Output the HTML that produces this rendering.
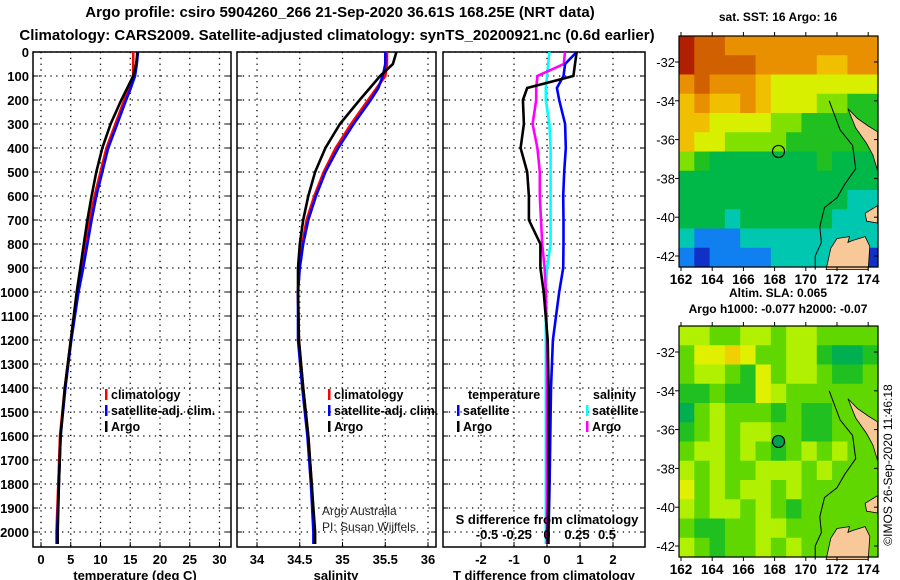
<!DOCTYPE html>
<html><head><meta charset="utf-8"><style>
body{margin:0;background:#fff;}
svg{display:block;font-family:"Liberation Sans",Arial,sans-serif;}
.b{font-weight:bold;}
</style></head><body>
<svg id="s" width="900" height="580" viewBox="0 0 900 580">
<text x="340" y="17" text-anchor="middle" class="b" font-size="15">Argo profile: csiro 5904260_266 21-Sep-2020 36.61S 168.25E (NRT data)</text>
<text x="337" y="40" text-anchor="middle" class="b" font-size="15">Climatology: CARS2009. Satellite-adjusted climatology: synTS_20200921.nc (0.6d earlier)</text>
<text x="778" y="21" text-anchor="middle" class="b" font-size="12">sat. SST: 16 Argo: 16</text>
<text x="778" y="297" text-anchor="middle" class="b" font-size="12">Altim. SLA: 0.065</text>
<text x="778" y="313" text-anchor="middle" class="b" font-size="12">Argo h1000: -0.077 h2000: -0.07</text>
<text transform="translate(892,465) rotate(-90)" text-anchor="middle" font-size="12">©IMOS 26-Sep-2020 11:46:18</text>
<text x="322" y="515" font-size="12" fill="#222">Argo Australia</text>
<text x="322" y="531" font-size="12" fill="#222">PI: Susan Wijffels</text>
<g id="g"></g>
</svg>
<script>
// ---- profile data ----
const depthTicks=[0,100,200,300,400,500,600,700,800,900,1000,1100,1200,1300,1400,1500,1600,1700,1800,1900,2000];
const tempTicks=[0,5,10,15,20,25,30];
const salTicks=[34,34.5,35,35.5,36];
const tdiffTicks=[-2,-1,0,1,2];
const sdiffTicks=[-0.5,-0.25,0,0.25,0.5];
const sdiffTickLabels=['-0.5','-0.25','0','0.25','0.5'];
const depths=[0,50,100,150,200,300,400,500,600,700,800,900,1000,1200,1400,1600,1800,2000,2050];
const tempArgo=[16.2,16.0,15.5,14.5,13.5,11.7,10.3,9.3,8.5,7.8,7.2,6.6,6.0,5.0,4.0,3.3,3.0,2.8,2.8];
const tempClim=[15.5,15.5,15.5,14.8,14.0,12.5,11.0,10.0,9.0,8.2,7.5,6.9,6.2,5.0,4.0,3.2,2.9,2.6,2.6];
const tempSat=[16.3,16.1,15.8,15.1,14.3,12.8,11.3,10.3,9.3,8.5,7.8,7.1,6.3,5.1,4.1,3.3,3.0,2.7,2.7];
const salArgo=[35.63,35.59,35.44,35.32,35.2,34.97,34.8,34.68,34.6,34.54,34.5,34.48,34.48,34.49,34.54,34.6,34.64,34.68,34.68];
const salClim=[35.52,35.52,35.5,35.4,35.3,35.1,34.92,34.78,34.67,34.58,34.53,34.49,34.48,34.49,34.54,34.6,34.64,34.67,34.67];
const salSat=[35.5,35.5,35.47,35.42,35.33,35.13,34.95,34.8,34.69,34.6,34.54,34.5,34.48,34.48,34.53,34.59,34.63,34.66,34.66];
const tdArgo=[0.9,0.85,0.8,-0.6,-0.73,-0.7,-0.8,-0.6,-0.55,-0.55,-0.2,-0.2,-0.1,0.02,0.05,0.05,0.05,0.02,0.02];
const tdSat=[0.9,0.55,0.5,0.3,0.37,0.55,0.57,0.52,0.49,0.5,0.5,0.49,0.37,0.18,0.12,0.1,0.08,0.05,0.05];
const sdArgo=[0.15,0.14,-0.08,-0.09,-0.09,-0.12,-0.08,-0.06,-0.06,-0.05,-0.04,-0.02,-0.01,0,0,0,0,0,0];
const sdSat=[0.02,0.01,0.0,-0.01,-0.01,0.02,0.03,0.03,0.03,0.03,0.03,0.0,-0.01,-0.01,-0.01,-0.01,-0.01,-0.01,-0.01];
// ---- map data ----
const mapLons=[162,164,166,168,170,172,174];
const mapLats=[-32,-34,-36,-38,-40,-42];
const sstPalette=['#1030c8','#1080f0','#00c8b0','#00b848','#20c020','#80e000','#d8f000','#f0c000','#e89000','#d06000','#b02000'];
const sstGrid=[
[10,9,9,8,8,8,8,8,8,8,8,8,8],
[10,9,9,9,9,8,8,8,8,7,7,8,8],
[8,9,8,8,8,7,6,6,6,6,6,6,6],
[7,8,7,7,8,7,6,6,6,5,5,4,4],
[7,7,6,6,6,6,5,5,4,4,4,4,4],
[7,6,6,5,5,5,5,4,4,4,4,4,4],
[5,4,3,3,3,3,3,3,3,4,3,3,3],
[3,3,3,3,3,3,3,3,3,3,3,3,3],
[3,3,3,3,3,3,3,3,3,3,3,2,2],
[3,3,3,2,3,3,3,3,3,3,2,2,2],
[2,1,1,1,2,2,2,2,2,2,2,2,2],
[1,0,1,1,1,1,2,2,2,2,2,2,0]];
const slaPalette=['#00b050','#20c020','#60d800','#b0f000','#e0f000','#f0d000'];
const slaGrid=[
[3,3,2,2,3,3,2,3,3,2,2,2,2],
[2,4,4,5,4,2,2,3,3,1,0,0,1],
[2,3,3,2,1,4,2,3,3,2,1,1,2],
[1,1,2,1,1,4,3,2,2,2,2,2,2],
[0,2,3,2,2,2,1,2,1,1,2,2,2],
[1,2,3,2,3,3,2,2,1,1,2,2,2],
[2,3,3,2,3,2,1,2,3,2,3,2,2],
[3,2,3,2,2,3,3,3,2,3,2,2,2],
[4,2,3,2,3,3,2,3,2,2,2,2,2],
[3,2,3,3,2,3,2,1,2,2,2,2,2],
[2,1,1,2,2,3,3,2,2,2,2,2,2],
[3,2,1,2,2,3,2,3,2,2,2,2,2]];
const landNorth=[[172.7,-34.4],[173.3,-34.9],[174.0,-35.3],[174.6,-35.6],[174.6,-37.6],[174.3,-36.8],[173.9,-36.2],[173.2,-35.4]];
const landMid=[[174.6,-39.4],[173.8,-39.8],[173.9,-40.2],[174.6,-40.3]];
const landSouth=[[171.3,-42.7],[171.6,-41.6],[172.0,-41.1],[172.8,-41.0],[172.7,-41.3],[173.0,-41.2],[173.8,-41.0],[174.1,-41.5],[174.0,-42.7]];
const shelfLine=[[171.5,-34.0],[172.2,-35.5],[173.0,-36.3],[173.2,-37.5],[172.5,-38.3],[172.0,-39.0],[171.2,-39.5],[170.9,-40.5],[171.0,-41.3],[170.6,-42.0],[170.6,-42.7]];
const argoPos=[168.25,-36.61];

const NS='http://www.w3.org/2000/svg';
const G=document.getElementById('g');
function mk(tag,at,parent){const e=document.createElementNS(NS,tag);for(const k in at)e.setAttribute(k,at[k]);(parent||G).appendChild(e);return e;}
function txt(x,y,s,at){const e=mk('text',Object.assign({x:x,y:y,'font-size':13,'font-weight':'bold'},at||{}));e.textContent=s;return e;}

const Y=d=>52+d*0.24;
const yTop=52,yBot=547;
const panels=[
 {name:'temperature',x0:33,x1:231,X:v=>41+5.95*v},
 {name:'salinity',x0:237,x1:436,X:v=>257+85.5*(v-34)},
 {name:'difference',x0:443,x1:645,X:v=>547+33*v,XS:v=>547+120*v}
];
function grid(p,xt){
 const dg=mk('g',{});
 
 
 depthTicks.forEach(d=>{mk('line',{x1:p.x0,x2:p.x1,y1:Y(d),y2:Y(d),stroke:'#000','stroke-width':1.3,'stroke-dasharray':'1.3 4.5'},dg);
  mk('line',{x1:p.x0,x2:p.x0+5,y1:Y(d),y2:Y(d),stroke:'#000'},dg);mk('line',{x1:p.x1-5,x2:p.x1,y1:Y(d),y2:Y(d),stroke:'#000'},dg);});
 xt.forEach(x=>{mk('line',{x1:x,x2:x,y1:yTop,y2:yBot,stroke:'#000','stroke-width':1.3,'stroke-dasharray':'1.3 4.5'},dg);
  mk('line',{x1:x,x2:x,y1:yBot-5,y2:yBot,stroke:'#000'},dg);});
 const f=mk('rect',{x:p.x0,y:yTop,width:p.x1-p.x0,height:yBot-yTop,fill:'none',stroke:'#000','stroke-width':1.5});
 
 
}
function line(vals,X,color,name){
 const pts=vals.map((v,i)=>X(v).toFixed(1)+','+Y(depths[i]).toFixed(1)).join(' ');
 const e=mk('polyline',{points:pts,fill:'none',stroke:color,'stroke-width':2.6});
 
 
}
depthTicks.forEach(d=>{const t=txt(29,Y(d)+5,String(d),{'text-anchor':'end'});
 
 });
const p1=panels[0];grid(p1,tempTicks.map(p1.X));
tempTicks.forEach(v=>{const t=txt(p1.X(v),564,String(v),{'text-anchor':'middle'});
 
 });
line(tempClim,p1.X,'#f00','temp-climatology-line');line(tempSat,p1.X,'#00f','temp-satellite-line');line(tempArgo,p1.X,'#000','temp-argo-line');
const p2=panels[1];grid(p2,salTicks.map(p2.X));
salTicks.forEach(v=>{const t=txt(p2.X(v),564,String(v),{'text-anchor':'middle'});
 
 });
line(salClim,p2.X,'#f00','sal-climatology-line');line(salSat,p2.X,'#00f','sal-satellite-line');line(salArgo,p2.X,'#000','sal-argo-line');
const p3=panels[2];grid(p3,tdiffTicks.map(p3.X));
tdiffTicks.forEach(v=>{const t=txt(p3.X(v),564,String(v),{'text-anchor':'middle'});
 
 });
line(sdSat,p3.XS,'#0ff','sdiff-satellite-line');line(sdArgo,p3.XS,'#f0f','sdiff-argo-line');
line(tdSat,p3.X,'#00f','tdiff-satellite-line');line(tdArgo,p3.X,'#000','tdiff-argo-line');
sdiffTicks.forEach((v,i)=>{const t=txt(p3.XS(v),539,sdiffTickLabels[i],{'text-anchor':'middle'});
 
 });
let lab;
lab=txt(547,524,'S difference from climatology',{'text-anchor':'middle'});
lab=txt(135,580,'temperature (deg C)',{'text-anchor':'middle'});
lab=txt(336,580,'salinity',{'text-anchor':'middle'});
lab=txt(544,580,'T difference from climatology',{'text-anchor':'middle'});
function leg(x,y,color,label,name){
 const g=mk('g',{});
 mk('rect',{x:x,y:y-10,width:2.5,height:11,fill:color},g);
 const e=document.createElementNS(NS,'text');e.setAttribute('x',x+6);e.setAttribute('y',y);e.setAttribute('font-size',12.5);e.setAttribute('font-weight','bold');e.textContent=label;g.appendChild(e);
}
leg(105,399,'#f00','climatology','legend-temp-climatology');leg(105,415,'#00f','satellite-adj. clim.','legend-temp-satellite');leg(105,431,'#000','Argo','legend-temp-argo');
leg(328,399,'#f00','climatology','legend-sal-climatology');leg(328,415,'#00f','satellite-adj. clim.','legend-sal-satellite');leg(328,431,'#000','Argo','legend-sal-argo');
lab=txt(468,399,'temperature',{'font-size':12.5});
leg(457,415,'#00f','satellite','legend-tdiff-satellite');leg(457,431,'#000','Argo','legend-tdiff-argo');
lab=txt(593,399,'salinity',{'font-size':12.5});
leg(586,415,'#0ff','satellite','legend-sdiff-satellite');leg(586,431,'#f0f','Argo','legend-sdiff-argo');

function drawMap(y0,y1,gridData,pal,name,filledMarker){
 const x0=679,x1=878;
 const LX=l=>681+(l-162)*15.6;
 const base=(y0===36)?62:352;
 const LY=a=>base+(-32-a)*19.4;
 const g=mk('g',{});
 const rows=gridData.length,cols=gridData[0].length;
 const cw=(x1-x0)/cols,ch=(y1-y0)/rows;
 gridData.forEach((r,i)=>r.forEach((v,j)=>{
  const c=mk('rect',{x:(x0+j*cw).toFixed(2),y:(y0+i*ch).toFixed(2),width:(cw+0.6).toFixed(2),height:(ch+0.6).toFixed(2),fill:pal[v]},g);
  
  
 }));
 const poly=(a,fill)=>mk('polygon',{points:a.map(p=>LX(p[0]).toFixed(1)+','+LY(p[1]).toFixed(1)).join(' '),fill:fill,stroke:'#000','stroke-width':0.8},g);
 poly(landNorth,'#f8c898');poly(landMid,'#f8c898');poly(landSouth,'#f8c898');
 const sl=mk('polyline',{points:shelfLine.map(p=>LX(p[0]).toFixed(1)+','+LY(p[1]).toFixed(1)).join(' '),fill:'none',stroke:'#000','stroke-width':1},g);
 
 const m=mk('circle',{cx:LX(argoPos[0]),cy:LY(argoPos[1]),r:6,fill:filledMarker?'#00a050':'none',stroke:'#000','stroke-width':1.2},g);
 
 mk('rect',{x:x0,y:y0,width:x1-x0,height:y1-y0,fill:'none',stroke:'#000','stroke-width':1.2},g);
 mapLats.forEach(a=>{mk('line',{x1:x1-4,x2:x1,y1:LY(a),y2:LY(a),stroke:'#000'},g);mk('line',{x1:x0-4,x2:x0,y1:LY(a),y2:LY(a),stroke:'#000'},g);
  const l=txt(x0-4,LY(a)+5,String(a),{'font-size':13,'font-weight':'normal','text-anchor':'end'});});
 mapLons.forEach(l=>{mk('line',{x1:LX(l),x2:LX(l),y1:y0-4,y2:y0,stroke:'#000'},g);mk('line',{x1:LX(l),x2:LX(l),y1:y1,y2:y1+4,stroke:'#000'},g);
  const e=txt(LX(l),y1+17,String(l),{'text-anchor':'middle','font-size':13.5});});
}
drawMap(36,267,sstGrid,sstPalette,'sst-map',false);
drawMap(326,557,slaGrid,slaPalette,'sla-map',true);
</script>
</body></html>
